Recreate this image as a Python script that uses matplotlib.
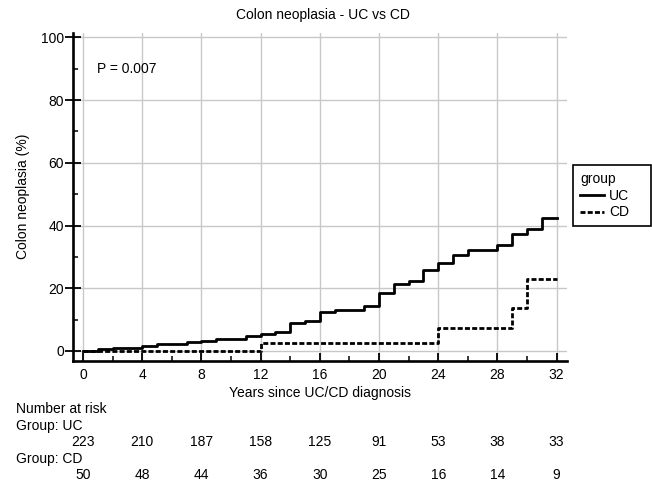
import matplotlib
matplotlib.use("Agg")
import matplotlib.pyplot as plt
import matplotlib.transforms as mtransforms
from matplotlib.ticker import MultipleLocator
from matplotlib.lines import Line2D

plt.rcParams['font.family'] = ['Liberation Sans', 'DejaVu Sans']
plt.rcParams['font.size'] = 10

# cumulative incidence (years, %)
uc_years = [0, 1, 2, 4, 5, 7, 8, 9, 11, 12, 13, 14, 15, 16, 17, 19, 20,
            21, 22, 23, 24, 25, 26, 28, 29, 30, 31, 32]
uc_pct = [0, 0.6, 1.1, 1.7, 2.2, 2.8, 3.3, 3.8, 4.9, 5.5, 6.0, 9.0, 9.6,
          12.3, 13.0, 14.4, 18.6, 21.2, 22.4, 25.8, 27.9, 30.6, 32.2,
          33.8, 37.3, 38.9, 42.5, 42.5]
cd_years = [0, 12, 24, 29, 30, 32]
cd_pct = [0, 2.7, 7.4, 13.8, 22.8, 22.8]

# number at risk table
risk_years = [0, 4, 8, 12, 16, 20, 24, 28, 32]
uc_risk = [223, 210, 187, 158, 125, 91, 53, 38, 33]
cd_risk = [50, 48, 44, 36, 30, 25, 16, 14, 9]

W, H = 652, 486
fig = plt.figure(figsize=(W / 100, H / 100), dpi=100)
ax = fig.add_axes([73 / W, 1 - 360.7 / H, (567 - 73) / W, (360.7 - 33.3) / H])

dash = (0, (1.8, 0.8))
ax.step(uc_years, uc_pct, where='post', color='black', lw=2, label='UC', zorder=3)
ax.step(cd_years, cd_pct, where='post', color='black', lw=2, linestyle=dash,
        label='CD', zorder=3)

ax.set_xlim(-0.68, 32.7)
ax.set_ylim(-3.1, 101.3)
ax.xaxis.set_major_locator(MultipleLocator(4))
ax.xaxis.set_minor_locator(MultipleLocator(2))
ax.yaxis.set_major_locator(MultipleLocator(20))
ax.yaxis.set_minor_locator(MultipleLocator(10))
ax.grid(True, which='major', color='#c8c8c8', lw=1, zorder=0)

for s in ['top', 'right']:
    ax.spines[s].set_visible(False)
for s in ['left', 'bottom']:
    ax.spines[s].set_linewidth(1.9)

ax.tick_params(axis='x', which='major', direction='in', length=6, width=1.3, pad=5)
ax.tick_params(axis='x', which='minor', direction='in', length=3.5, width=1.1)
ax.tick_params(axis='y', which='major', direction='inout', length=11, width=1.3, pad=1)
ax.tick_params(axis='y', which='minor', direction='in', length=3.5, width=1.1)

fig.text(0.5 * (73 + 567) / W + 0.004, 1 - 15 / H, 'Colon neoplasia - UC vs CD',
         ha='center', va='center')
fig.text(23 / W, 1 - 196 / H, 'Colon neoplasia (%)', rotation=90,
         ha='center', va='center')
fig.text(320 / W, 1 - 393 / H, 'Years since UC/CD diagnosis', ha='center', va='center')

ax.text(0.95, 90, 'P = 0.007', ha='left', va='center')

# legend, stretched to the box width seen in the picture
handles = [Line2D([], [], color='black', lw=2),
           Line2D([], [], color='black', lw=2, linestyle=dash)]
leg = ax.legend(handles, ['UC', 'CD'], title='group', loc='upper left',
                bbox_to_anchor=(573 / W, 1 - 223 / H, 78 / W, 58 / H),
                bbox_transform=fig.transFigure, mode='expand',
                fancybox=False, shadow=False, framealpha=1, edgecolor='black',
                handlelength=1.7, handletextpad=0.4, labelspacing=0.2,
                borderpad=0.5, borderaxespad=0, title_fontsize=10, alignment='left')
leg.get_frame().set_linewidth(1.2)

# risk table
trans = mtransforms.blended_transform_factory(ax.transData, fig.transFigure)
fig.text(16 / W, 1 - 409 / H, 'Number at risk', ha='left', va='center')
fig.text(16 / W, 1 - 426 / H, 'Group: UC', ha='left', va='center')
fig.text(16 / W, 1 - 459 / H, 'Group: CD', ha='left', va='center')
for yr, n_uc, n_cd in zip(risk_years, uc_risk, cd_risk):
    ax.text(yr, 1 - 442 / H, str(n_uc), transform=trans, ha='center', va='center')
    ax.text(yr, 1 - 475 / H, str(n_cd), transform=trans, ha='center', va='center')

fig.savefig('out.png', dpi=100)
